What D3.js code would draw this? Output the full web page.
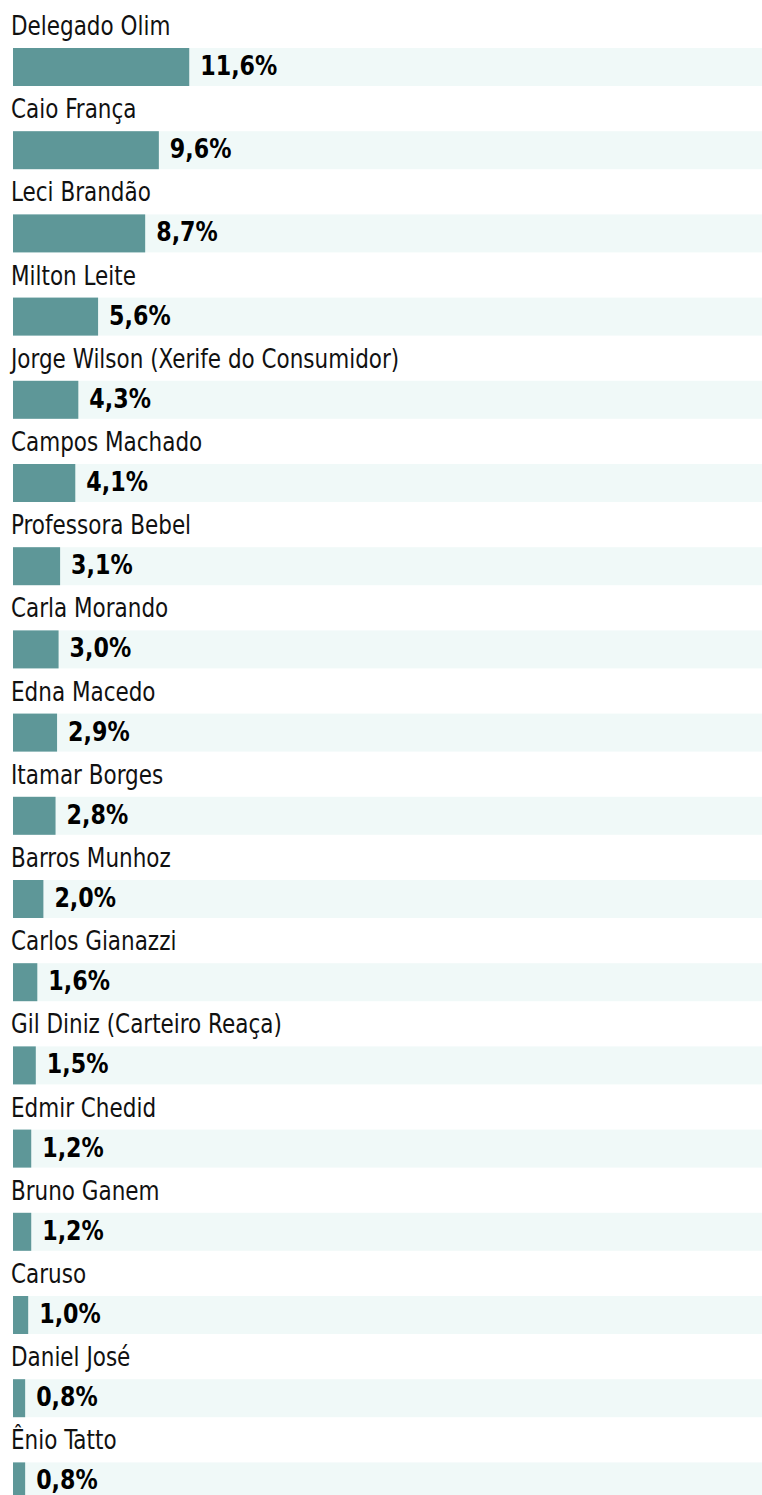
<!DOCTYPE html>
<meta charset="utf-8">
<script src="https://d3js.org/d3.v7.min.js"></script>
<style>
  body { margin: 0; background: #fff; }
  text { font-family: "DejaVu Sans Condensed", "Liberation Sans Narrow", "Roboto", sans-serif; }
</style>
<div id="chart"></div>
<script>

// candidates and their share (%)
var names = ["Delegado Olim", "Caio França", "Leci Brandão", "Milton Leite",
  "Jorge Wilson (Xerife do Consumidor)", "Campos Machado", "Professora Bebel",
  "Carla Morando", "Edna Macedo", "Itamar Borges", "Barros Munhoz",
  "Carlos Gianazzi", "Gil Diniz (Carteiro Reaça)", "Edmir Chedid",
  "Bruno Ganem", "Caruso", "Daniel José", "Ênio Tatto"];
var values = [11.6, 9.6, 8.7, 5.6, 4.3, 4.1, 3.1, 3.0, 2.9, 2.8, 2.0, 1.6, 1.5, 1.2, 1.2, 1.0, 0.8, 0.8];

var width = 762, height = 1495;
var left = 13, rowH = 83.2, top0 = 48, barH = 38;

var svg = d3.select("#chart").append("svg")
  .attr("width", width)
  .attr("height", height);

var x = d3.scaleLinear().domain([0, 49.3]).range([left, width]);
var y = function(i) { return top0 + i * rowH; };

var fmt = function(v) { return d3.format(".1f")(v).replace(".", ",") + "%"; };

var rows = svg.selectAll("g.row")
  .data(values)
  .enter().append("g")
  .attr("class", "row")
  .attr("transform", function(d, i) { return "translate(0," + y(i) + ")"; });

// background track
rows.append("rect")
  .attr("x", left)
  .attr("y", 0)
  .attr("width", width - left)
  .attr("height", barH)
  .attr("fill", "#f0f9f8");

// bar
rows.append("rect")
  .attr("x", left)
  .attr("y", 0)
  .attr("width", function(d) { return x(d) - left; })
  .attr("height", barH)
  .attr("fill", "#5e9798");

// candidate name (squeezed a bit to mimic the condensed face)
rows.append("text")
  .attr("transform", "translate(11,-13) scale(0.92,1)")
  .attr("font-size", 26)
  .attr("fill", "#111")
  .text(function(d, i) { return names[i]; });

// value label
rows.append("text")
  .attr("transform", function(d) { return "translate(" + (x(d) + 11) + ",27) scale(0.95,1)"; })
  .attr("font-size", 26)
  .attr("font-weight", "bold")
  .attr("fill", "#000")
  .text(fmt);

</script>
